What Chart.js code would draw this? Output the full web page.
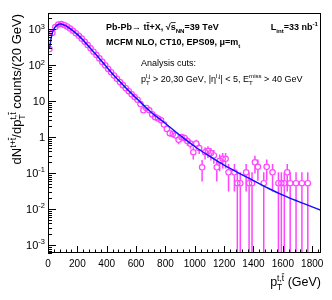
<!DOCTYPE html>
<html>
<head>
<meta charset="utf-8">
<script src="https://cdn.jsdelivr.net/npm/chart.js@4/dist/chart.umd.min.js"></script>
<style>
  html, body { margin: 0; padding: 0; background: #fff; }
  #wrap { width: 332px; height: 300px; }
</style>
</head>
<body>
<div id="wrap"><canvas id="chart" width="332" height="300"></canvas></div>
<script>
// bin centres (GeV), only non-empty bins
const ptBins = [10, 30, 50, 70, 90, 110, 130, 150, 170, 190, 210, 230, 250, 270, 290, 310, 330, 350, 370, 390,
  410, 430, 450, 470, 490, 510, 530, 550, 570, 590, 610, 630, 650, 670, 690, 710, 730, 750, 770, 790,
  810, 830, 850, 870, 890, 910, 930, 950, 970, 990, 1010, 1030, 1050, 1070, 1090, 1110, 1130, 1150, 1170, 1190,
  1210, 1230, 1270, 1290, 1310, 1350, 1370, 1390, 1410, 1430, 1470, 1490, 1530, 1570, 1590, 1610, 1630, 1650, 1690, 1730, 1770];
const counts = [282, 800, 1150, 1360, 1400, 1320, 1200, 1050, 910, 780, 660, 550, 450, 365, 295, 238, 192, 155, 124, 99,
  79, 64, 52, 42, 34, 28, 23, 19, 15.5, 13, 11, 8.3, 5.6, 6.5, 5.6, 4.3, 3.6, 3.3, 2.95, 2.24,
  1.7, 1.29, 1.23, 1.12, 0.85, 1.0, 0.95, 0.78, 0.66, 0.38, 0.66, 0.5, 0.145, 0.38, 0.41, 0.36, 0.31, 0.145, 0.22, 0.25,
  0.25, 0.105, 0.105, 0.0525, 0.0525, 0.105, 0.0525, 0.0525, 0.2, 0.15, 0.0525, 0.15, 0.105, 0.0525, 0.0525, 0.0525, 0.105, 0.0525, 0.0525, 0.0525, 0.0525];
const countErr = [3.85, 6.5, 7.8, 8.4, 8.6, 8.3, 7.9, 7.4, 6.9, 6.4, 5.9, 5.4, 4.9, 4.4, 3.9, 3.5, 3.2, 2.85, 2.55, 2.28,
  2.04, 1.83, 1.65, 1.48, 1.34, 1.21, 1.1, 1.0, 0.9, 0.83, 0.76, 0.66, 0.54, 0.58, 0.54, 0.475, 0.435, 0.416, 0.39, 0.343,
  0.3, 0.26, 0.254, 0.243, 0.211, 0.229, 0.223, 0.202, 0.186, 0.141, 0.186, 0.162, 0.087, 0.141, 0.147, 0.137, 0.128, 0.087, 0.107, 0.115,
  0.115, 0.074, 0.074, 0.0525, 0.0525, 0.074, 0.0525, 0.0525, 0.102, 0.089, 0.0525, 0.089, 0.074, 0.0525, 0.0525, 0.0525, 0.074, 0.0525, 0.0525, 0.0525, 0.0525];

// NLO prediction (blue curve)
const curveX = [10, 20, 30, 40, 50, 60, 70, 80, 90, 100, 120, 150, 200, 250, 300, 350, 400, 450, 500, 550,
  600, 650, 700, 750, 800, 900, 1000, 1100, 1200, 1300, 1400, 1500, 1600, 1700, 1800, 1860];
const curveY = [282, 525, 794, 1000, 1175, 1290, 1365, 1400, 1400, 1365, 1260, 1050, 725, 447, 263, 155, 89, 52, 31.6, 19.5,
  12.3, 7.8, 5.0, 3.47, 2.4, 1.12, 0.55, 0.295, 0.166, 0.1, 0.062, 0.038, 0.0245, 0.0166, 0.0115, 0.0093];

const xTicks = [0, 200, 400, 600, 800, 1000, 1200, 1400, 1600, 1800];
const yTickExp = [-3, -2, -1, 0, 1, 2, 3];

const FONT = '"Liberation Sans", Arial, Helvetica, sans-serif';
const MAGENTA = '#ff45ff';

// draws a text piece; '~' before a char puts an overline on it
function drawSeg(ctx, txt, x, y, size, draw) {
  let cx = x;
  for (let i = 0; i < txt.length; i++) {
    let bar = false;
    if (txt[i] === '~') { bar = true; i++; }
    const ch = txt[i];
    const w = ctx.measureText(ch).width;
    if (draw) {
      ctx.fillText(ch, cx, y);
      if (bar) ctx.fillRect(cx, y - size * 0.86, w, Math.max(0.8, size * 0.08));
    }
    cx += w;
  }
  return cx - x;
}

function drawRich(ctx, x, y, parts, size, weight, draw) {
  let cx = x;
  parts.forEach(p => {
    if (p.t !== undefined) {
      ctx.font = `${weight} ${size}px ${FONT}`;
      cx += drawSeg(ctx, p.t, cx, y, size, draw);
    } else {
      const s = size * 0.68;
      ctx.font = `${weight} ${s}px ${FONT}`;
      let w = 0;
      if (p.sup) w = Math.max(w, drawSeg(ctx, p.sup, cx, y - size * 0.42, s, draw));
      if (p.sub) w = Math.max(w, drawSeg(ctx, p.sub, cx, y + size * 0.28, s, draw));
      cx += w;
    }
  });
  return cx - x;
}

const decorPlugin = {
  id: 'decor',
  beforeDatasetsDraw(chart) {
    // error bars, kept out of the marker
    const { ctx, chartArea: a, scales: { x, y } } = chart;
    ctx.save();
    ctx.strokeStyle = MAGENTA;
    ctx.lineWidth = 1.5;
    const r = 3;
    ptBins.forEach((b, i) => {
      const px = x.getPixelForValue(b);
      const py = y.getPixelForValue(counts[i]);
      const hi = y.getPixelForValue(counts[i] + countErr[i]);
      const loVal = counts[i] - countErr[i];
      const lo = loVal > 0 ? Math.min(a.bottom, y.getPixelForValue(loVal)) : a.bottom;
      ctx.beginPath();
      if (py - hi > r) { ctx.moveTo(px, Math.max(a.top, hi)); ctx.lineTo(px, py - r); }
      if (lo - py > r) { ctx.moveTo(px, py + r); ctx.lineTo(px, lo); }
      ctx.stroke();
    });
    ctx.restore();
  },
  afterDraw(chart) {
    const { ctx, chartArea: a, scales: { x, y } } = chart;
    ctx.save();
    ctx.strokeStyle = '#000';
    ctx.fillStyle = '#000';
    ctx.lineWidth = 1;
    ctx.strokeRect(a.left + 0.5, a.top + 0.5, a.right - a.left - 1, a.bottom - a.top - 1);

    // x ticks
    ctx.beginPath();
    for (let v = 0; v <= 1860; v += 40) {
      const px = Math.round(x.getPixelForValue(v)) + 0.5;
      const len = v % 200 === 0 ? 7 : 3.5;
      ctx.moveTo(px, a.bottom);
      ctx.lineTo(px, a.bottom - len);
    }
    // y ticks (log)
    for (let e = -4; e <= 3; e++) {
      for (let m = 1; m <= 9; m++) {
        const v = m * Math.pow(10, e);
        if (v < y.min || v > y.max) continue;
        const py = Math.round(y.getPixelForValue(v)) + 0.5;
        const len = m === 1 ? 8 : 4;
        ctx.moveTo(a.left, py);
        ctx.lineTo(a.left + len, py);
      }
    }
    ctx.stroke();

    // x tick labels
    ctx.font = `10px ${FONT}`;
    ctx.textAlign = 'center';
    ctx.textBaseline = 'alphabetic';
    xTicks.forEach(v => ctx.fillText(String(v), x.getPixelForValue(v), a.bottom + 14));

    // y tick labels
    ctx.textAlign = 'left';
    yTickExp.forEach(e => {
      const parts = e === 0 ? [{ t: '1' }] : e === 1 ? [{ t: '10' }] : [{ t: '10' }, { sup: String(e) }];
      const w = drawRich(ctx, 0, 0, parts, 11, 'normal', false);
      drawRich(ctx, a.left - 3 - w, y.getPixelForValue(Math.pow(10, e)) + 4, parts, 11, 'normal', true);
    });

    // axis titles
    const xt = [{ t: 'p' }, { sup: 't,~t', sub: 'T' }, { t: ' (GeV)' }];
    const xw = drawRich(ctx, 0, 0, xt, 12.5, 'normal', false);
    drawRich(ctx, a.right - xw, 286, xt, 12.5, 'normal', true);

    const yt = [{ t: 'dN' }, { sup: 't+~t' }, { t: '/dp' }, { sup: 't,~t', sub: 'T' }, { t: ' counts/(20 GeV)' }];
    const yw = drawRich(ctx, 0, 0, yt, 13, 'normal', false);
    ctx.save();
    ctx.translate(21, a.top + 1 + yw);
    ctx.rotate(-Math.PI / 2);
    drawRich(ctx, 0, 0, yt, 13, 'normal', true);
    ctx.restore();

    // labels in the frame
    drawRich(ctx, 106, 30, [{ t: 'Pb-Pb\u2192 t~t+X, \u221A~s' }, { sub: 'NN' }, { t: '=39 TeV' }], 9, 'bold', true);
    const lt = [{ t: 'L' }, { sub: 'int' }, { t: '=33 nb' }, { sup: '-1' }];
    const lw = drawRich(ctx, 0, 0, lt, 9, 'bold', false);
    drawRich(ctx, a.right - 3 - lw, 30, lt, 9, 'bold', true);
    drawRich(ctx, 106, 45, [{ t: 'MCFM NLO, CT10, EPS09, \u03BC=m' }, { sub: 't' }], 9, 'bold', true);
    drawRich(ctx, 141, 66, [{ t: 'Analysis cuts:' }], 9, 'normal', true);
    drawRich(ctx, 141, 82, [{ t: 'p' }, { sup: 'l,j', sub: 'T' }, { t: ' > 20,30 GeV, |\u03B7' }, { sup: 'l,j' },
      { t: '| < 5, E' }, { sup: 'miss', sub: 'T' }, { t: ' > 40 GeV' }], 9, 'normal', true);
    ctx.restore();
  }
};

new Chart(document.getElementById('chart'), {
  type: 'scatter',
  data: {
    datasets: [
      {
        label: 'NLO',
        data: curveX.map((v, i) => ({ x: v, y: curveY[i] })),
        showLine: true,
        borderColor: '#1010ff',
        borderWidth: 1.5,
        pointRadius: 0,
        cubicInterpolationMode: 'monotone',
        order: 1
      },
      {
        label: 'pseudo-data',
        data: ptBins.map((v, i) => ({ x: v, y: counts[i] })),
        pointStyle: 'circle',
        pointRadius: 2.7,
        pointBorderWidth: 1.2,
        pointBorderColor: MAGENTA,
        pointBackgroundColor: 'rgba(0,0,0,0)',
        order: 2
      }
    ]
  },
  options: {
    responsive: false,
    animation: false,
    layout: { padding: { left: 48, right: 11, top: 13, bottom: 47 } },
    plugins: { legend: { display: false }, tooltip: { enabled: false } },
    scales: {
      x: { type: 'linear', min: 0, max: 1860, display: false },
      y: { type: 'logarithmic', min: 6e-4, max: 2840, display: false }
    }
  },
  plugins: [decorPlugin]
});
</script>
</body>
</html>
